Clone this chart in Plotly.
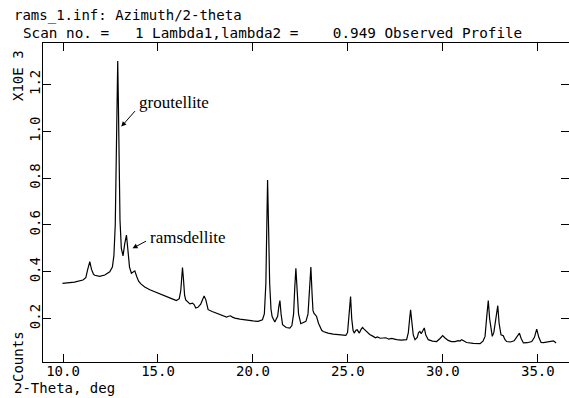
import plotly.graph_objects as go

two_theta = [9.97, 10.3, 10.6, 11.05, 11.20, 11.30, 11.41, 11.50, 11.60, 11.67, 11.93, 12.2, 12.46,
             12.60, 12.68, 12.75, 12.80, 12.85, 12.88, 12.91, 12.95, 13.00, 13.07, 13.16, 13.25, 13.34,
             13.42, 13.50, 13.60, 13.70, 13.78, 13.88, 13.98, 14.10, 14.30, 14.57, 15.0, 15.45, 15.75,
             15.97, 16.12, 16.20, 16.25, 16.29, 16.34, 16.40, 16.46, 16.60, 16.68, 16.82, 16.90, 16.99,
             17.10, 17.25, 17.35, 17.43, 17.52, 17.64, 17.85, 18.08, 18.35, 18.61, 18.72, 18.82, 18.92,
             19.05, 19.31, 19.7, 20.0, 20.27, 20.50, 20.60, 20.68, 20.73, 20.77, 20.82, 20.88, 20.95,
             21.01, 21.15, 21.30, 21.36, 21.42, 21.48, 21.56, 21.75, 21.94, 22.05, 22.14, 22.20, 22.26,
             22.32, 22.40, 22.52, 22.65, 22.79, 22.90, 22.97, 23.05, 23.11, 23.16, 23.21, 23.28, 23.35,
             23.45, 23.52, 23.62, 23.70, 23.95, 24.23, 24.60, 24.89, 24.98, 25.05, 25.14, 25.20, 25.27,
             25.33, 25.42, 25.49, 25.55, 25.60, 25.70, 25.77, 25.85, 25.98, 26.15, 26.33, 26.45, 26.55,
             26.70, 26.86, 27.0, 27.15, 27.30, 27.57, 27.80, 28.09, 28.18, 28.25, 28.30, 28.36, 28.44,
             28.53, 28.65, 28.72, 28.79, 28.86, 28.93, 29.02, 29.10, 29.23, 29.45, 29.67, 29.85, 29.99,
             30.10, 30.28, 30.45, 30.64, 30.80, 30.90, 30.99, 31.10, 31.25, 31.60, 31.96, 32.12, 32.22,
             32.30, 32.39, 32.46, 32.54, 32.60, 32.68, 32.76, 32.89, 32.96, 33.06, 33.18, 33.27, 33.36,
             33.55, 33.75, 33.90, 34.03, 34.12, 34.24, 34.45, 34.68, 34.82, 34.94, 35.05, 35.17, 35.30,
             35.47, 35.65, 35.82, 35.90, 35.96]
counts = [0.350, 0.352, 0.356, 0.365, 0.375, 0.41, 0.443, 0.41, 0.39, 0.385, 0.380, 0.386, 0.400,
          0.42, 0.47, 0.60, 0.85, 1.15, 1.30, 1.15, 0.85, 0.62, 0.50, 0.468, 0.52, 0.557,
          0.49, 0.42, 0.394, 0.40, 0.404, 0.38, 0.36, 0.348, 0.335, 0.323, 0.310, 0.294, 0.284,
          0.277, 0.285, 0.32, 0.38, 0.418, 0.37, 0.30, 0.280, 0.268, 0.263, 0.266, 0.26, 0.245,
          0.248, 0.262, 0.285, 0.297, 0.280, 0.238, 0.230, 0.223, 0.215, 0.206, 0.210, 0.212, 0.206,
          0.202, 0.198, 0.192, 0.190, 0.188, 0.195, 0.22, 0.35, 0.60, 0.792, 0.60, 0.35, 0.24,
          0.209, 0.185, 0.21, 0.25, 0.277, 0.22, 0.174, 0.162, 0.159, 0.17, 0.22, 0.33, 0.415,
          0.33, 0.22, 0.178, 0.182, 0.188, 0.22, 0.31, 0.420, 0.31, 0.235, 0.223, 0.215, 0.209,
          0.18, 0.166, 0.150, 0.145, 0.138, 0.134, 0.130, 0.128, 0.14, 0.20, 0.294, 0.20, 0.15,
          0.138, 0.150, 0.152, 0.140, 0.138, 0.155, 0.162, 0.155, 0.145, 0.132, 0.124, 0.118, 0.122,
          0.116, 0.117, 0.118, 0.112, 0.115, 0.110, 0.108, 0.110, 0.14, 0.20, 0.238, 0.19, 0.13,
          0.110, 0.12, 0.14, 0.145, 0.135, 0.145, 0.160, 0.13, 0.110, 0.104, 0.102, 0.115, 0.127,
          0.118, 0.107, 0.102, 0.102, 0.106, 0.104, 0.110, 0.104, 0.098, 0.094, 0.093, 0.105, 0.124,
          0.20, 0.277, 0.20, 0.14, 0.124, 0.14, 0.19, 0.255, 0.18, 0.131, 0.127, 0.11, 0.102,
          0.100, 0.105, 0.120, 0.138, 0.115, 0.096, 0.097, 0.102, 0.12, 0.155, 0.12, 0.098, 0.097,
          0.100, 0.102, 0.105, 0.100, 0.096]

x_ticks = [10, 15, 20, 25, 30, 35]
x_tick_labels = ["10.0", "15.0", "20.0", "25.0", "30.0", "35.0"]
y_ticks = [0.2, 0.4, 0.6, 0.8, 1.0, 1.2]
y_tick_labels = ["0.2", "0.4", "0.6", "0.8", "1.0", "1.2"]

title_line1 = "rams_1.inf: Azimuth/2-theta"
title_line2 = "Scan no. =   1 Lambda1,lambda2 =    0.949 Observed Profile"
x_title = "2-Theta, deg"

W, H = 569, 398
ML, MR, MT, MB = 43, 0, 43, 36
PW, PH = W - ML - MR, H - MT - MB
TICK = 8
XR = [8.946, 36.64]
YR = [0.0146, 1.377]

def px(x):
    return (x - ML) / PW

def py(y):
    return (H - MB - y) / PH

mono = "DejaVu Sans Mono"
fs = 14

fig = go.Figure()
fig.add_trace(go.Scatter(x=two_theta, y=counts, mode="lines",
                         line=dict(color="black", width=1.2), hoverinfo="skip",
                         showlegend=False))

clear = "rgba(0,0,0,0)"

def axis(**kw):
    d = dict(showline=True, linecolor="#000000", linewidth=1, mirror="allticks",
             ticks="inside", ticklen=TICK, tickcolor="#000000", tickwidth=1,
             showgrid=False, zeroline=False, tickmode="array",
             tickfont=dict(family=mono, size=fs, color="black"))
    d.update(kw)
    return d

nb = lambda s: s.replace(" ", "\u00a0")
ann = []
ann.append(dict(text=nb(title_line1), xref="paper", yref="paper", x=px(12), y=py(16),
                xanchor="left", yanchor="middle", showarrow=False,
                font=dict(family=mono, size=fs, color="black")))
ann.append(dict(text=nb(title_line2), xref="paper", yref="paper", x=px(21), y=py(33),
                xanchor="left", yanchor="middle", showarrow=False,
                font=dict(family=mono, size=fs + 0.3, color="black")))
ann.append(dict(text=nb(x_title), xref="paper", yref="paper", x=px(12), y=py(388),
                xanchor="left", yanchor="middle", showarrow=False,
                font=dict(family=mono, size=fs, color="black")))
ann.append(dict(text="Counts", xref="paper", yref="paper", x=px(18), y=py(357),
                xanchor="center", yanchor="middle", textangle=-90, showarrow=False,
                font=dict(family=mono, size=fs, color="black")))
ann.append(dict(text=nb("X10E 3"), xref="paper", yref="paper", x=px(18), y=py(76),
                xanchor="center", yanchor="middle", textangle=-90, showarrow=False,
                font=dict(family=mono, size=fs, color="black")))

serif = "Liberation Serif"
ann.append(dict(text="groutellite", x=13.87, y=1.125, xref="x", yref="y",
                xanchor="left", yanchor="middle", showarrow=False,
                font=dict(family=serif, size=17, color="black")))
ann.append(dict(text="", x=13.07, y=1.02, xref="x", yref="y", showarrow=True,
                ax=15, ay=-17, arrowhead=2, arrowsize=1, arrowwidth=1, arrowcolor="black"))
ann.append(dict(text="ramsdellite", x=14.46, y=0.546, xref="x", yref="y",
                xanchor="left", yanchor="middle", showarrow=False,
                font=dict(family=serif, size=17, color="black")))
ann.append(dict(text="", x=13.66, y=0.50, xref="x", yref="y", showarrow=True,
                ax=15, ay=-8, arrowhead=2, arrowsize=1, arrowwidth=1, arrowcolor="black"))

fig.update_layout(
    width=W, height=H, margin=dict(l=ML, r=MR, t=MT, b=MB, pad=0),
    paper_bgcolor="white", plot_bgcolor="white", annotations=ann,
    xaxis=axis(range=XR, tickvals=x_ticks, ticktext=x_tick_labels,
               ticklabelstandoff=-4),
    yaxis=axis(range=YR, tickvals=y_ticks, ticktext=y_tick_labels,
               tickangle=-90, ticklabelstandoff=-4),
)

fig.write_html("out.html")
